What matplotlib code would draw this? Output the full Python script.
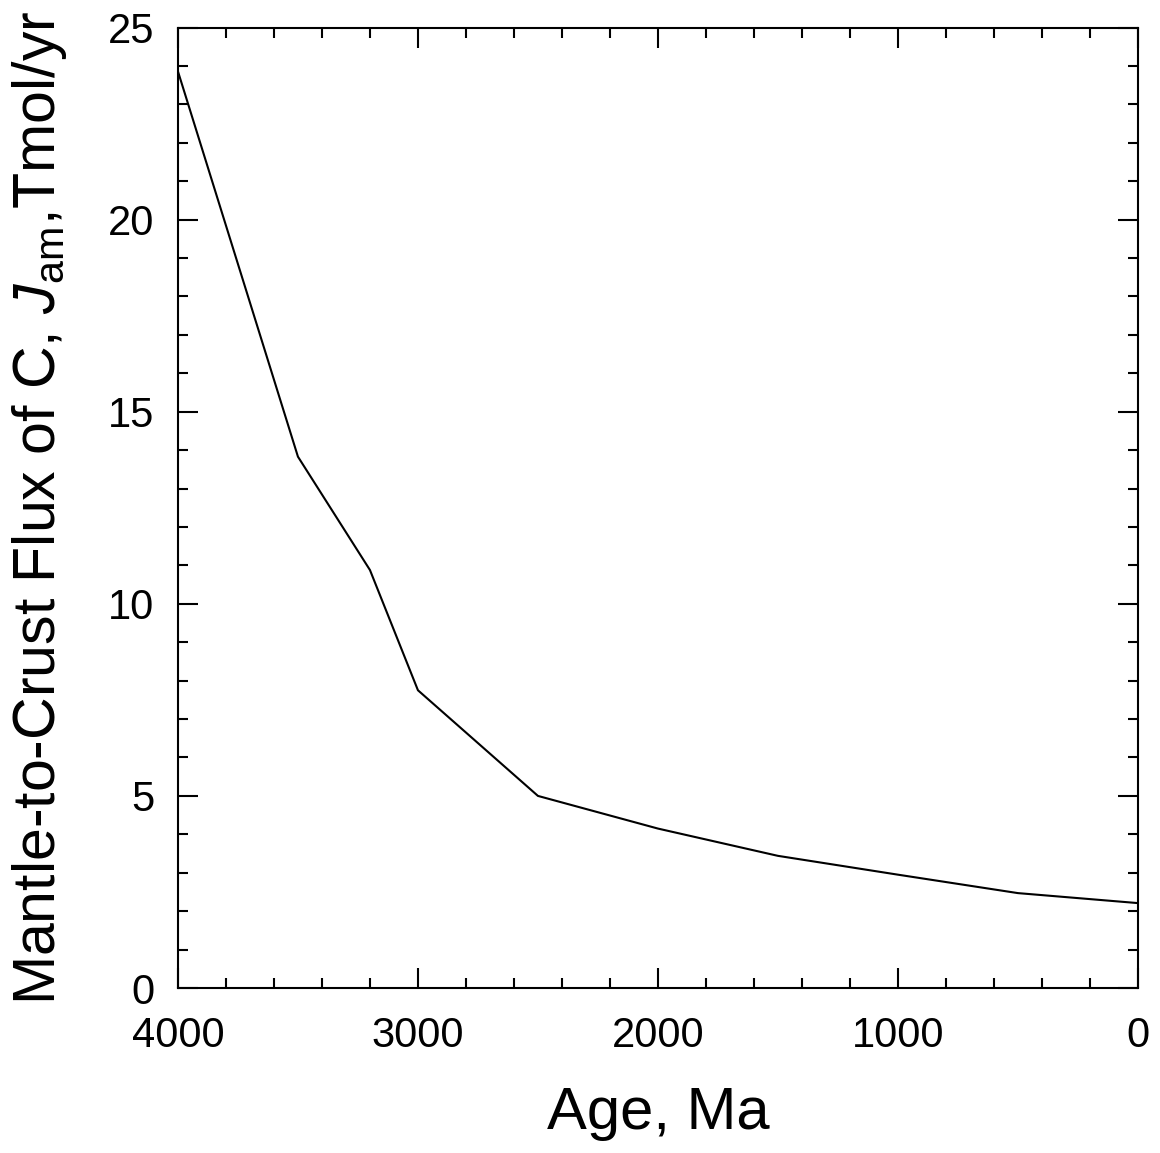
import numpy as np
import matplotlib
matplotlib.use('Agg')
import matplotlib.pyplot as plt
from matplotlib.ticker import MultipleLocator

# valores
age = [4000, 3500, 3200, 3000, 2500, 2000, 1500, 1000, 500, 0]
flux = [23.86, 13.83, 10.88, 7.75, 5.0, 4.15, 3.44, 2.95, 2.47, 2.21]

plt.rcParams['font.family'] = ['Liberation Sans', 'DejaVu Sans']
plt.rcParams['mathtext.fontset'] = 'custom'
plt.rcParams['mathtext.rm'] = 'Liberation Sans'
plt.rcParams['mathtext.it'] = 'Liberation Sans:italic'

fig = plt.figure(figsize=(11.6, 11.53), dpi=100)
ax = fig.add_axes([0.1534, 0.1431, 0.9810 - 0.1534, 0.9761 - 0.1431])

ax.plot(age, flux, color='k', lw=1.5)

ax.set_xlim(4000, 0)
ax.set_ylim(0, 25)
ax.xaxis.set_major_locator(MultipleLocator(1000))
ax.xaxis.set_minor_locator(MultipleLocator(200))
ax.yaxis.set_major_locator(MultipleLocator(5))
ax.yaxis.set_minor_locator(MultipleLocator(1))

ax.tick_params(which='both', direction='in', top=True, right=True, width=1.5)
ax.tick_params(which='major', length=14.4, labelsize=30)
ax.tick_params(axis='x', which='major', pad=20)
ax.tick_params(axis='y', which='major', pad=17)
ax.tick_params(which='minor', length=7.2)
for s in ax.spines.values():
    s.set_linewidth(1.5)

ax.set_xlabel('Age, Ma', fontsize=43, labelpad=22)
ax.set_ylabel(r'Mantle-to-Crust Flux of C, $J_{\rm am}$,Tmol/yr', fontsize=42.5)
ax.yaxis.set_label_coords(-0.113, 0.5)

fig.savefig('out.png', dpi=100)
